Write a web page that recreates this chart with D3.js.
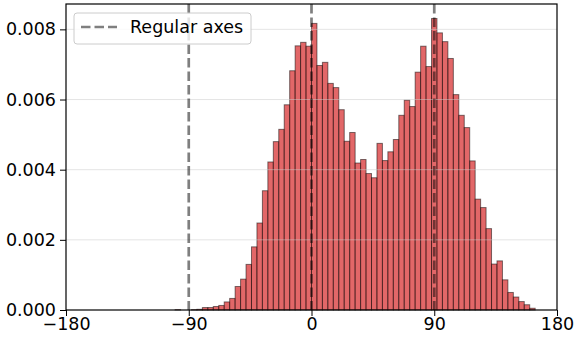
<!DOCTYPE html>
<html>
<head>
<meta charset="utf-8">
<script src="https://cdn.jsdelivr.net/npm/d3@7"></script>
<style>
    body { margin: 0; background: white; }
    text { font-family: "DejaVu Sans", sans-serif; }
</style>
</head>
<body>
<div id="chart"></div>
<script>
// left edge of every 4 degree bin and its density
const binStarts = [-100, -96, -92, -88, -84, -80, -76, -72, -68, -64, -60, -56, -52, -48, -44, -40,
    -36, -32, -28, -24, -20, -16, -12, -8, -4, 0, 4, 8, 12, 16, 20, 24, 28, 32, 36, 40, 44,
    48, 52, 56, 60, 64, 68, 72, 76, 80, 84, 88, 92, 96, 100, 104, 108, 112, 116, 120, 124,
    128, 132, 136, 140, 144, 148, 152, 156, 160]
const density = [0.00001, 0, 0, 0.00001, 0.00002, 0.00007, 0.00007, 0.0001, 0.00013, 0.00023,
    0.00033, 0.00067, 0.00088, 0.0013, 0.0018, 0.00248, 0.0034, 0.00422, 0.0048, 0.00515,
    0.00585, 0.00682, 0.00753, 0.00763, 0.00752, 0.00817, 0.00697, 0.00706, 0.00646, 0.00634,
    0.00571, 0.00481, 0.00506, 0.00419, 0.00429, 0.00389, 0.00377, 0.00475, 0.00426, 0.00451,
    0.00486, 0.00555, 0.00598, 0.0058, 0.00678, 0.00752, 0.00694, 0.00831, 0.0079, 0.00765,
    0.00717, 0.00614, 0.00555, 0.0052, 0.00425, 0.00316, 0.00292, 0.00232, 0.00131, 0.0014,
    0.00086, 0.0005, 0.00037, 0.00024, 0.00015, 0.00005]
const binWidth = 4
const xTicks = [-180, -90, 0, 90, 180]
const yTicks = [0, 0.002, 0.004, 0.006, 0.008]
const regularAxes = [-90, 0, 90]
const legendLabel = "Regular axes"

const fontSize = 17.5

const margin = {top: 4, right: 20, bottom: 31, left: 66},
    width = 577 - margin.left - margin.right,
    height = 341 - margin.top - margin.bottom;

const svg = d3.select("#chart")
  .append("svg")
    .attr("width", width + margin.left + margin.right)
    .attr("height", height + margin.top + margin.bottom)

const g = svg.append("g")
    .attr("transform", `translate(${margin.left},${margin.top})`);

const x = d3.scaleLinear().domain([-180, 180]).range([0, width])
const y = d3.scaleLinear().domain([0, 0.008723]).range([height, 0])

const data = binStarts.map((b, i) => ({x0: b, x1: b + binWidth, v: density[i]}))

g.append("defs").append("clipPath").attr("id", "plot-clip")
  .append("rect").attr("width", width).attr("height", height)

// bars
g.append("g").selectAll("rect")
    .data(data)
    .join("rect")
    .attr("x", d => x(d.x0))
    .attr("y", d => y(d.v))
    .attr("width", d => x(d.x1) - x(d.x0))
    .attr("height", d => y(0) - y(d.v))
    .attr("fill", "#d62728")
    .attr("fill-opacity", 0.7)
    .attr("stroke", "black")
    .attr("stroke-opacity", 0.5)
    .attr("stroke-width", 1)

// horizontal grid, drawn faintly over the bars
g.append("g").selectAll("line")
    .data(yTicks.slice(1))
    .join("line")
    .attr("x1", 0).attr("x2", width)
    .attr("y1", d => y(d)).attr("y2", d => y(d))
    .attr("stroke", "#cccccc")
    .attr("stroke-opacity", 0.5)
    .attr("stroke-width", 1)

// dashed reference lines
g.append("g").attr("clip-path", "url(#plot-clip)")
  .selectAll("line")
    .data(regularAxes)
    .join("line")
    .attr("x1", d => x(d)).attr("x2", d => x(d))
    .attr("y1", 0).attr("y2", height)
    .attr("stroke", "black")
    .attr("stroke-opacity", 0.5)
    .attr("stroke-width", 2.7)
    .attr("stroke-dasharray", "9.5,4")

const fmtX = d => d < 0 ? "\u2212" + Math.abs(d) : String(d)

const xAxis = g.append("g")
    .attr("transform", `translate(0, ${height})`)
    .call(d3.axisBottom(x).tickValues(xTicks).tickFormat(fmtX).tickSize(6).tickPadding(2))
const yAxis = g.append("g")
    .call(d3.axisLeft(y).tickValues(yTicks).tickFormat(d3.format(".3f")).tickSize(6).tickPadding(4))

for (const ax of [xAxis, yAxis]) {
    ax.select(".domain").remove()
    ax.selectAll("line").attr("stroke", "black").attr("stroke-width", 1)
    ax.selectAll("text").attr("font-size", fontSize).attr("fill", "black")
        .style("font-family", "'DejaVu Sans', sans-serif")
}

// frame
g.append("rect")
    .attr("width", width).attr("height", height)
    .attr("fill", "none").attr("stroke", "black").attr("stroke-width", 1.2)

// legend
const legend = g.append("g").attr("transform", "translate(8, 9)")
legend.append("rect")
    .attr("width", 177).attr("height", 31)
    .attr("rx", 3)
    .attr("fill", "white").attr("fill-opacity", 0.8)
    .attr("stroke", "#cccccc").attr("stroke-width", 1)
legend.append("line")
    .attr("x1", 7).attr("x2", 43)
    .attr("y1", 14).attr("y2", 14)
    .attr("stroke", "black")
    .attr("stroke-opacity", 0.5)
    .attr("stroke-width", 2.7)
    .attr("stroke-dasharray", "9.5,4")
legend.append("text")
    .attr("x", 56).attr("y", 14)
    .attr("dy", "0.35em")
    .attr("font-size", fontSize)
    .text(legendLabel)
</script>
</body>
</html>
